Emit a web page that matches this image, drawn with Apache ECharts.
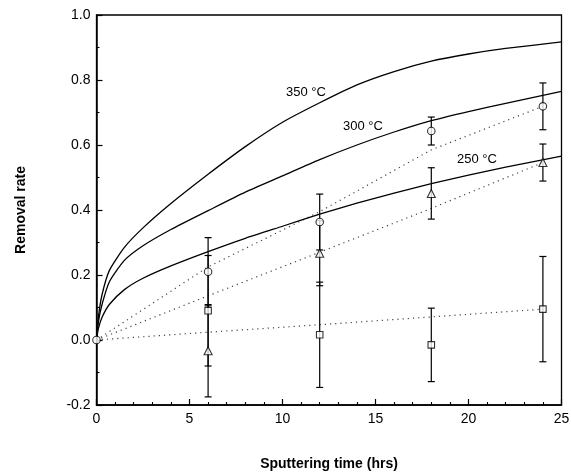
<!DOCTYPE html>
<html>
<head>
<meta charset="utf-8">
<script src="https://cdn.jsdelivr.net/npm/echarts@6/dist/echarts.min.js"></script>
<style>
html,body{margin:0;padding:0;background:#fff;}
#chart{width:571px;height:474px;}
</style>
</head>
<body>
<div id="chart"></div>
<script>
// ---- data ----
var curveX = [0, 0.1, 0.3, 0.7, 1.5, 2.5, 4, 6, 8, 10, 12, 14, 16, 18, 20, 22, 25];
var curve350 = [0, 0.07, 0.14, 0.215, 0.285, 0.345, 0.42, 0.51, 0.595, 0.67, 0.73, 0.785, 0.826, 0.858, 0.88, 0.897, 0.917];
var curve300 = [0, 0.055, 0.11, 0.18, 0.245, 0.29, 0.34, 0.398, 0.455, 0.505, 0.555, 0.6, 0.64, 0.675, 0.703, 0.728, 0.765];
var curve250 = [0, 0.035, 0.07, 0.11, 0.155, 0.19, 0.228, 0.272, 0.313, 0.35, 0.387, 0.421, 0.452, 0.481, 0.507, 0.532, 0.566];

var timeX = [6, 12, 18, 24];
var circleY = [0.21, 0.363, 0.643, 0.719];
var circleErr = [0.105, 0.086, 0.043, 0.072];
var triY = [-0.033, 0.267, 0.451, 0.546];
var triErr = [0.142, 0.10, 0.079, 0.057];
var sqY = [0.09, 0.016, -0.015, 0.095];
var sqErr = [0.17, 0.162, 0.113, 0.162];

var trendX = [0, 6, 12, 18, 24];
var circleTrend = [0, 0.225, 0.395, 0.585, 0.719];
var triTrend = [0, 0.136, 0.27, 0.405, 0.546];
var sqTrend = [0, 0.024, 0.047, 0.071, 0.095];

var curveLabels = ['350 °C', '300 °C', '250 °C'];
var xTicks = [0, 5, 10, 15, 20, 25];

// ---- helpers ----
function zip(xs, ys) { return xs.map(function (x, i) { return [x, ys[i]]; }); }
function zip3(xs, ys, es) { return xs.map(function (x, i) { return [x, ys[i], es[i]]; }); }

var FONT = 'Liberation Sans, Arial, Helvetica, sans-serif';

function errorBarSeries(data) {
  return {
    type: 'custom',
    z: 3,
    data: data,
    renderItem: function (params, api) {
      var x = api.value(0), y = api.value(1), e = api.value(2);
      var top = api.coord([x, y + e]);
      var bot = api.coord([x, y - e]);
      var hw = 3.5;
      var st = { stroke: '#000', lineWidth: 1.2 };
      return {
        type: 'group',
        children: [
          { type: 'line', shape: { x1: top[0], y1: top[1], x2: bot[0], y2: bot[1] }, style: st },
          { type: 'line', shape: { x1: top[0] - hw, y1: top[1], x2: top[0] + hw, y2: top[1] }, style: st },
          { type: 'line', shape: { x1: bot[0] - hw, y1: bot[1], x2: bot[0] + hw, y2: bot[1] }, style: st }
        ]
      };
    }
  };
}

function curveSeries(ys) {
  return {
    type: 'line', data: zip(curveX, ys), smooth: 0.2,
    symbol: 'none', z: 2,
    lineStyle: { color: '#000', width: 1.3 }
  };
}

function trendSeries(ys) {
  return {
    type: 'line', data: zip(trendX, ys), symbol: 'none', z: 1,
    lineStyle: { color: '#444', width: 1.2, type: [1.2, 4] }
  };
}

function markerSeries(xs, ys, symbol, size) {
  return {
    type: 'scatter', data: zip(xs, ys), symbol: symbol, symbolSize: size, z: 5,
    itemStyle: { color: '#fff', borderColor: '#000', borderWidth: 1.1 }
  };
}

var chart = echarts.init(document.getElementById('chart'), null, { renderer: 'canvas' });

var option = {
  animation: false,
  backgroundColor: '#fff',
  grid: { left: 96.5, right: 9.5, top: 15, bottom: 69, containLabel: false, outerBoundsMode: 'none',
    show: true, borderColor: '#000', borderWidth: 1.3, backgroundColor: 'transparent' },
  xAxis: {
    type: 'value', min: 0, max: 25, interval: 5,
    name: 'Sputtering time (hrs)', nameLocation: 'middle', nameGap: 52,
    nameTextStyle: { fontFamily: FONT, fontSize: 14, fontWeight: 'bold', color: '#000' },
    axisLine: { show: true, onZero: false, lineStyle: { color: '#000', width: 1.5 } },
    axisTick: { show: true, inside: true, length: 6, lineStyle: { color: '#000', width: 1.2 } },
    minorTick: { show: true, splitNumber: 5, length: 3, lineStyle: { color: '#000', width: 1.1 } },
    splitLine: { show: false },
    axisLabel: { fontFamily: FONT, fontSize: 14, color: '#000', margin: 7,
      formatter: function (v) { return xTicks.indexOf(v) >= 0 ? String(v) : ''; } }
  },
  yAxis: {
    type: 'value', min: -0.2, max: 1.0, interval: 0.2,
    name: 'Removal rate', nameLocation: 'middle', nameGap: 68, nameRotate: 90,
    nameTextStyle: { fontFamily: FONT, fontSize: 14, fontWeight: 'bold', color: '#000' },
    axisLine: { show: true, onZero: false, lineStyle: { color: '#000', width: 1.5 } },
    axisTick: { show: true, inside: true, length: 6, lineStyle: { color: '#000', width: 1.2 } },
    minorTick: { show: true, splitNumber: 2, length: 3, lineStyle: { color: '#000', width: 1.1 } },
    splitLine: { show: false },
    axisLabel: { fontFamily: FONT, fontSize: 14, color: '#000', margin: 6,
      formatter: function (v) { return v.toFixed(1); } }
  },
  series: [
    curveSeries(curve350),
    curveSeries(curve300),
    curveSeries(curve250),
    trendSeries(circleTrend),
    trendSeries(triTrend),
    trendSeries(sqTrend),
    errorBarSeries(zip3(timeX, circleY, circleErr)),
    errorBarSeries(zip3(timeX, triY, triErr)),
    errorBarSeries(zip3(timeX, sqY, sqErr)),
    markerSeries([0].concat(timeX), [0].concat(circleY), 'circle', 7.5),
    markerSeries(timeX, triY, 'triangle', 8),
    markerSeries(timeX, sqY, 'rect', 6.5)
  ],
  graphic: [
    { type: 'text', left: 286, top: 86, style: { text: curveLabels[0], font: '13px ' + FONT, fill: '#000' } },
    { type: 'text', left: 343, top: 120, style: { text: curveLabels[1], font: '13px ' + FONT, fill: '#000' } },
    { type: 'text', left: 457, top: 153, style: { text: curveLabels[2], font: '13px ' + FONT, fill: '#000' } }
  ]
};
chart.setOption(option);
</script>
</body>
</html>
